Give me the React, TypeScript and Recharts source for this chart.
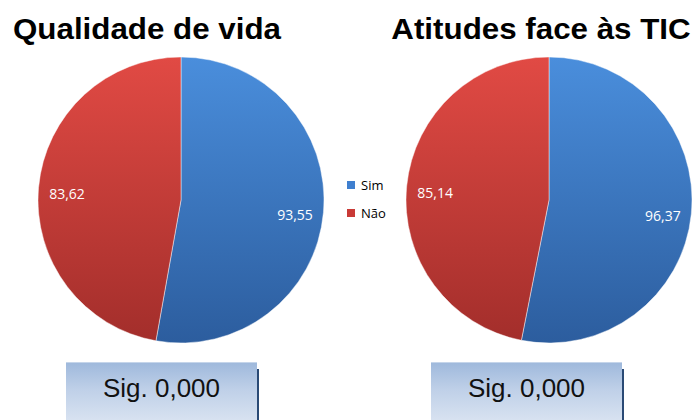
import React from 'react';
import { PieChart, Pie, Cell } from 'recharts';

const categories = ['Sim', 'Não'];
const qualidadeValues = [93.55, 83.62];
const atitudesValues = [96.37, 85.14];
const titles = ['Qualidade de vida', 'Atitudes face às TIC'];
const sigLabels = ['Sig. 0,000', 'Sig. 0,000'];

const qualidadeData = categories.map((name, i) => ({ name, value: qualidadeValues[i] }));
const atitudesData = categories.map((name, i) => ({ name, value: atitudesValues[i] }));

const gradIds = ['gradBlue', 'gradRed'];
const legendColors = ['#3f7fcf', '#c93a36'];
const RAD = Math.PI / 180;

const fmt = (v: number) => v.toFixed(2).replace('.', ',');

const renderLabel = (props: any) => {
  const { cx, cy, midAngle, outerRadius, value } = props;
  const r = outerRadius * 0.8;
  const x = cx + r * Math.cos(-midAngle * RAD);
  const y = cy + r * Math.sin(-midAngle * RAD) + 4;
  return (
    <text
      x={x}
      y={y}
      fill="#ffffff"
      textAnchor="middle"
      dominantBaseline="central"
      fontFamily="'Open Sans', 'Noto Sans', sans-serif"
      fontSize={14}
    >
      {fmt(value)}
    </text>
  );
};

const titleStyle: React.CSSProperties = {
  position: 'absolute',
  top: 11,
  fontFamily: "'Liberation Sans', Arial, sans-serif",
  fontWeight: 'bold',
  fontSize: 29,
  color: '#000',
  whiteSpace: 'nowrap',
  transform: 'translateX(-50%) scaleX(1.08)',
  lineHeight: '36px',
};

const boxStyle = (left: number, width: number): React.CSSProperties => ({
  position: 'absolute',
  left,
  top: 362,
  width,
  height: 60,
  background: 'linear-gradient(180deg, #9fb9dc 0%, #bfd0e8 45%, #d9e3f1 100%)',
  borderTop: '1px solid #c5d5ea',
  boxShadow: '3px 6px 0 -1px #2a4a75',
  fontFamily: "'Liberation Sans', Arial, sans-serif",
  fontSize: 26,
  color: '#111',
  display: 'flex',
  justifyContent: 'center',
  paddingTop: 10,
  boxSizing: 'border-box',
});

export default function App() {
  return (
    <div
      style={{
        position: 'absolute',
        left: 0,
        top: 0,
        width: 698,
        height: 420,
        overflow: 'hidden',
        background: '#ffffff',
      }}
    >
      <PieChart width={698} height={420} margin={{ top: 0, right: 0, bottom: 0, left: 0 }}>
        <defs>
          <linearGradient id="gradBlue" x1="0" y1="0" x2="0" y2="1">
            <stop offset="0%" stopColor="#4a8edc" />
            <stop offset="100%" stopColor="#2c5d9e" />
          </linearGradient>
          <linearGradient id="gradRed" x1="0" y1="0" x2="0" y2="1">
            <stop offset="0%" stopColor="#e14a44" />
            <stop offset="100%" stopColor="#a32e2b" />
          </linearGradient>
        </defs>
        <Pie
          data={qualidadeData}
          dataKey="value"
          nameKey="name"
          cx={181}
          cy={200}
          outerRadius={143}
          startAngle={90}
          endAngle={-270}
          stroke="rgba(255,255,255,0.45)"
          strokeWidth={1}
          label={renderLabel}
          labelLine={false}
          isAnimationActive={false}
        >
          {qualidadeData.map((d, i) => (
            <Cell key={d.name} fill={`url(#${gradIds[i]})`} />
          ))}
        </Pie>
        <Pie
          data={atitudesData}
          dataKey="value"
          nameKey="name"
          cx={549}
          cy={200}
          outerRadius={143}
          startAngle={90}
          endAngle={-270}
          stroke="rgba(255,255,255,0.45)"
          strokeWidth={1}
          label={renderLabel}
          labelLine={false}
          isAnimationActive={false}
        >
          {atitudesData.map((d, i) => (
            <Cell key={d.name} fill={`url(#${gradIds[i]})`} />
          ))}
        </Pie>
      </PieChart>

      <div style={{ ...titleStyle, left: 147 }}>{titles[0]}</div>
      <div style={{ ...titleStyle, left: 541 }}>{titles[1]}</div>

      <div style={{ position: 'absolute', left: 347, top: 171 }}>
        {categories.map((c, i) => (
          <div
            key={c}
            style={{
              display: 'flex',
              alignItems: 'center',
              height: 28,
              fontFamily: "'Open Sans', 'Noto Sans', sans-serif",
              fontSize: 13,
              color: '#000',
            }}
          >
            <span
              style={{
                display: 'inline-block',
                width: 8,
                height: 8,
                background: legendColors[i],
                marginRight: 6,
              }}
            />
            {c}
          </div>
        ))}
      </div>

      <div style={boxStyle(66, 191)}>{sigLabels[0]}</div>
      <div style={boxStyle(431, 191)}>{sigLabels[1]}</div>
    </div>
  );
}
